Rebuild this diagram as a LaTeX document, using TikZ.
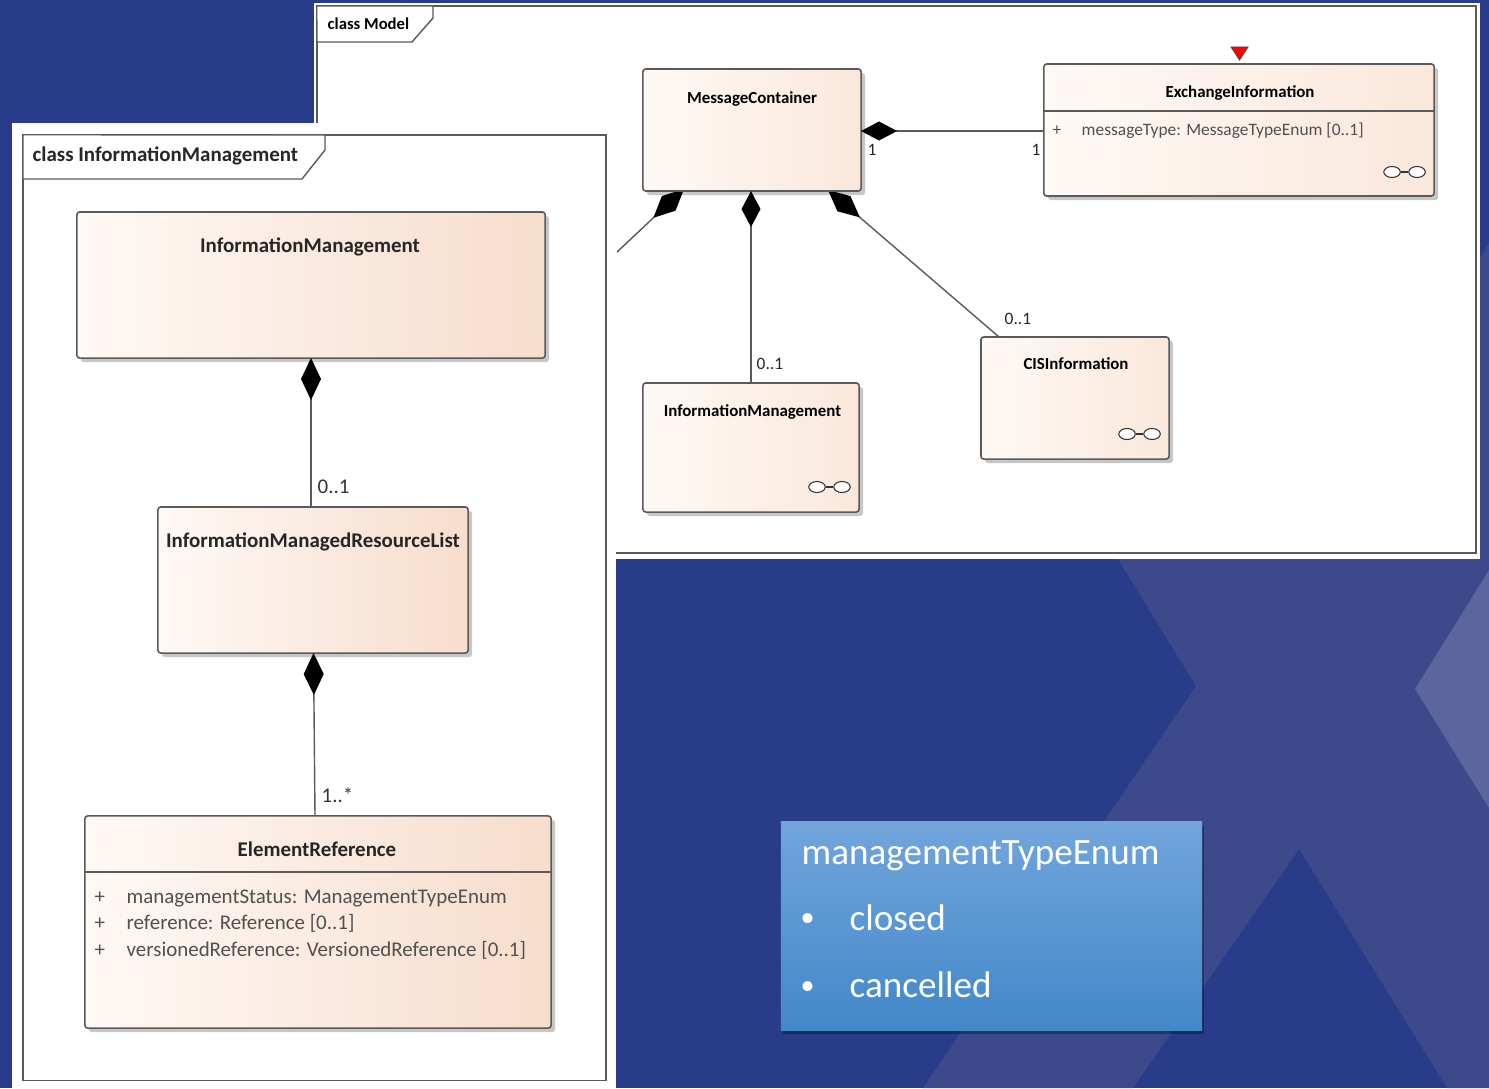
\documentclass[tikz,border=0pt]{standalone}
\usepackage{fontspec}
\setmainfont{Carlito}
\usetikzlibrary{shapes,arrows.meta,positioning,shadows}

\definecolor{slidebg}{HTML}{283C8A}
\definecolor{slideband}{HTML}{3C4A8C}
\definecolor{slidetip}{HTML}{5C669E}
\definecolor{classleft}{HTML}{FEF9F6}
\definecolor{classright}{HTML}{F7DDCC}
\definecolor{modelright}{HTML}{FAE8DB}
\definecolor{edgegray}{HTML}{5A5A5A}
\definecolor{attrgray}{HTML}{505050}
\definecolor{enumtop}{HTML}{72A5DC}
\definecolor{enumbottom}{HTML}{4288C9}

\tikzset{
  panel/.style={fill=white, inner sep=0pt, outer sep=0pt},
  frametag/.style={draw=edgegray, line width=0.4pt, fill=white},
  classbox/.style={draw=edgegray, line width=0.45pt, rounded corners=0.8pt, left color=classleft, right color=classright,
    inner sep=0pt, outer sep=0pt, drop shadow={shadow xshift=0.04cm, shadow yshift=-0.04cm, fill=black, opacity=0.22}},
  modelbox/.style={classbox, right color=modelright},
  bigtitle/.style={font=\fontsize{5.95}{7}\selectfont\bfseries, anchor=base, text=black!85, inner sep=0pt},
  smalltitle/.style={font=\fontsize{4.8}{6}\selectfont\bfseries, anchor=base, text=black, inner sep=0pt},
  bigattr/.style={font=\fontsize{5.95}{7}\selectfont, anchor=base west, text=attrgray, inner sep=0pt},
  smallattr/.style={font=\fontsize{4.95}{6}\selectfont, anchor=base west, text=attrgray, inner sep=0pt},
  multlabel/.style={font=\fontsize{4.95}{6}\selectfont, anchor=base west, text=black!85, inner sep=0pt},
  compose/.style={draw=edgegray, line width=0.4pt, {Diamond[length=0.42cm, width=0.2cm, fill=black, color=black]}-},
  composesmall/.style={draw=edgegray, line width=0.4pt, {Diamond[length=0.36cm, width=0.19cm, fill=black, color=black]}-},
  linkring/.style={draw=black!80, line width=0.3pt, ellipse, fill=white, minimum width=0.165cm, minimum height=0.11cm, inner sep=0pt},
  enumtext/.style={font=\fontsize{10.55}{12}\selectfont, anchor=base west, text=white, inner sep=0pt},
  enumbullet/.style={font=\fontsize{8}{10}\selectfont, anchor=base west, text=white, inner sep=0pt}
}

\begin{document}
\begin{tikzpicture}[x=0.01cm, y=-0.01cm]
\useasboundingbox (0,0) rectangle (1489,1088);

% Slide background
\fill[slidebg] (0,0) rectangle (1489,1088);
\fill[slideband] (1489,243) -- (1300,559) -- (1118,559) -- (1196,686) -- (923,1088) -- (1133,1088)
  -- (1299,849) -- (1447,1088) -- (1489,1088) -- cycle;
\fill[slidetip] (1489,570) -- (1415,689) -- (1489,808) -- cycle;

% Model panel
\node[panel, minimum width=11.66cm, minimum height=5.56cm] (modelpanel) at (897,281) {};
\node[draw=edgegray, line width=0.5pt, minimum width=11.59cm, minimum height=5.47cm, inner sep=0pt, outer sep=0pt] (modelframe) at (896.5,279.5) {};
\draw[frametag] (modelframe.north west) -- (433,6) -- (433,18) -- (412,42) -- (317,42) -- cycle;
\node[smalltitle, font=\fontsize{4.75}{6}\selectfont\bfseries, anchor=base west] (modeltag) at (327,30) {class Model};

% Model connectors, under the boxes
\coordinate (leftroot) at (684,189);
\coordinate (rightroot) at (828,190);
\coordinate (hiddenend) at (617,252);
\coordinate (cisend) at (999,337);

% Model classes
\draw[compose] (leftroot) -- (hiddenend);
\draw[compose] (rightroot) -- (cisend);
\node[modelbox, minimum width=2.18cm, minimum height=1.22cm] (msgcontainer) at (752,130) {};
\node[modelbox, minimum width=3.9cm, minimum height=1.32cm] (exchange) at (1239,130) {};
\node[modelbox, minimum width=2.16cm, minimum height=1.29cm] (infosmall) at (751,447.5) {};
\node[modelbox, minimum width=1.88cm, minimum height=1.22cm] (cis) at (1075,398) {};
\coordinate (exchangeport) at (1044,131);
\coordinate (containerport) at (861,131);
\draw[composesmall] (containerport) -- (exchangeport);
\draw[composesmall] (msgcontainer.south -| infosmall.north) -- (infosmall.north);
\coordinate (exchangehdr) at (0,111);
\draw[edgegray, line width=0.4pt] (exchange.west |- exchangehdr) -- (exchange.east |- exchangehdr);
\node[smalltitle] (msgname) at (752,103.5) {MessageContainer};
\node[smalltitle] (exchangename) at (1240,97.5) {ExchangeInformation};
\node[smalltitle] (infosmallname) at (752.5,416.5) {InformationManagement};
\node[smalltitle] (cisname) at (1076,369.5) {CISInformation};
\node[smallattr] (exchangeplus) at (1052,136) {+};
\node[smallattr] (exchangeattr) at (1081,136) {messageType: MessageTypeEnum [0..1]};
\node[multlabel] (mult1a) at (867,156) {1};
\node[multlabel] (mult1b) at (1031,156) {1};
\node[multlabel] (multinfo) at (756,369) {0..1};
\node[multlabel] (multcis) at (1004,324) {0..1};

% Tagged value marker
\draw[draw=black!70, fill=red, line width=0.25pt] (1231,47) -- (1248,47) -- (1239.5,60) -- cycle;

% Link icons
\foreach \linkname/\lx/\ly in {ex/1392/172, info/817/487, cis/1127/434} {
  \node[linkring] (\linkname a) at (\lx,\ly) {};
  \node[linkring] (\linkname b) at (\lx+25,\ly) {};
  \draw[draw=black!80, line width=0.3pt] (\linkname a) -- (\linkname b);
}

% InformationManagement panel
\node[panel, minimum width=6.04cm, minimum height=9.65cm] (infopanel) at (314,605.5) {};
\node[draw=edgegray, line width=0.45pt, minimum width=5.83cm, minimum height=9.45cm, inner sep=0pt, outer sep=0pt] (infoframe) at (314.5,607.5) {};
\draw[frametag] (infoframe.north west) -- (325,135) -- (325,150) -- (302,179) -- (23,179) -- cycle;
\node[bigtitle, font=\fontsize{5.95}{7}\selectfont\bfseries, anchor=base west] (infotag) at (32,162) {class InformationManagement};

% Panel classes
\node[classbox, minimum width=4.68cm, minimum height=1.46cm] (infobig) at (311,285) {};
\node[classbox, minimum width=3.1cm, minimum height=1.46cm] (resourcelist) at (313,580) {};
\node[classbox, minimum width=4.66cm, minimum height=2.12cm] (elementref) at (318,922) {};
\coordinate (listport) at (313.5,653);
\coordinate (elementport) at (315,816);
\coordinate (infoport) at (311,358);
\coordinate (listtop) at (311,507);
\draw[compose] (infoport) -- (listtop);
\draw[compose] (listport) -- (elementport);
\coordinate (elementhdr) at (0,872);
\draw[edgegray, line width=0.4pt] (elementref.west |- elementhdr) -- (elementref.east |- elementhdr);
\node[bigtitle] (infobigname) at (310,252) {InformationManagement};
\node[bigtitle] (listname) at (313,547) {InformationManagedResourceList};
\node[bigtitle] (elementname) at (317,856) {ElementReference};
\node[bigattr, text=black!80] (multlist) at (317,493) {0..1};
\node[bigattr, text=black!80] (multelement) at (321,802) {1..*};
\foreach \attrname/\ay/\attrtext in {status/903/{managementStatus: ManagementTypeEnum},
    refer/929/{reference: Reference [0..1]},
    versioned/956/{versionedReference: VersionedReference [0..1]}} {
  \node[bigattr] (\attrname plus) at (94,\ay) {+};
  \node[bigattr] (\attrname text) at (126,\ay) {\attrtext};
}

% Enumeration box
\node[top color=enumtop, bottom color=enumbottom, minimum width=4.21cm, minimum height=2.08cm, inner sep=0pt, outer sep=0pt,
  drop shadow={shadow xshift=0.02cm, shadow yshift=-0.04cm, fill=black, opacity=0.3}] (enumbox) at (991.5,926) {};
\node[enumtext] (enumname) at (801,864) {managementTypeEnum};
\node[enumbullet] (bulletone) at (800,926.5) {•};
\node[enumtext] (closedtext) at (849,930) {closed};
\node[enumbullet] (bullettwo) at (800,994) {•};
\node[enumtext] (cancelledtext) at (849,997) {cancelled};
\end{tikzpicture}
\end{document}
